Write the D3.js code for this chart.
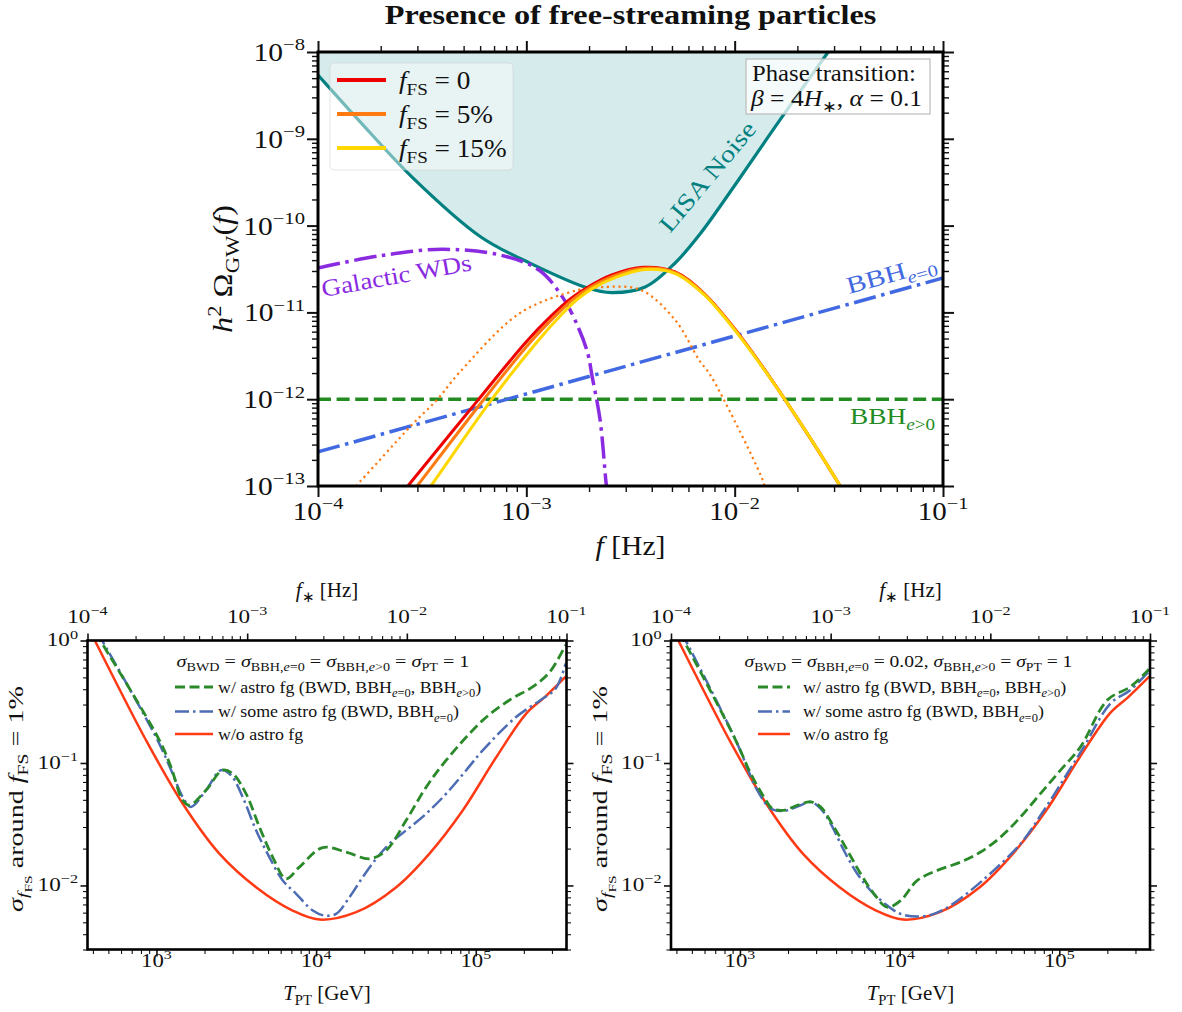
<!DOCTYPE html>
<html><head><meta charset="utf-8">
<script src="https://cdn.jsdelivr.net/npm/d3@7"></script>
<style>
body{margin:0;background:#fff}
svg text{font-family:"Liberation Serif","Times New Roman",serif;fill:#111}
</style></head>
<body><svg id="c" width="1182" height="1012"></svg>
<script>
// ---------------- DATA (top panel: f [Hz], h^2 Omega_GW) ----------------
const lisaF     = [1.00e-4,1.59e-4,2.86e-4,6.05e-4,1.04e-3,1.97e-3,2.55e-3,3.72e-3,5.18e-3,6.82e-3,1.00e-2,1.65e-2,2.81e-2,3.58e-2];
const lisaOmega = [5.43e-9,1.58e-9,3.53e-10,7.40e-11,3.70e-11,1.91e-11,1.69e-11,1.96e-11,3.71e-11,8.00e-11,2.90e-10,1.65e-9,1.00e-8,2.30e-8];

const wdF     = [1.00e-4,1.96e-4,3.94e-4,7.48e-4,1.15e-3,1.50e-3,1.77e-3,1.97e-3,2.07e-3,2.26e-3,2.41e-3,2.44e-3];
const wdOmega = [3.25e-11,4.47e-11,5.33e-11,4.58e-11,3.08e-11,1.47e-11,6.84e-12,3.40e-12,1.82e-12,5.75e-13,1.13e-13,8.9e-14];

const bbh0F     = [1e-4, 1e-1];
const bbh0Omega = [2.47e-13, 2.49e-11];
const bbhEccF     = [1e-4, 1e-1];
const bbhEccOmega = [1e-12, 1e-12];

const pt0F     = [2.51e-4,2.70e-4,5.86e-4,1.00e-3,1.31e-3,1.62e-3,1.97e-3,2.57e-3,3.63e-3,5.15e-3,7.11e-3,1.04e-2,1.75e-2,3.21e-2,3.5e-2];
const pt0Omega = [8.0e-14,1.0e-13,9.77e-13,4.6e-12,9.0e-12,1.42e-11,1.95e-11,2.70e-11,3.31e-11,2.94e-11,1.66e-11,5.74e-12,9.77e-13,1.0e-13,7.0e-14];
const pt5F     = [2.78e-4,2.99e-4,6.26e-4,1.05e-3,1.39e-3,1.68e-3,2.02e-3,2.61e-3,3.63e-3,5.15e-3,7.11e-3,1.04e-2,1.75e-2,3.21e-2,3.5e-2];
const pt5Omega = [8.0e-14,1.0e-13,1.0e-12,4.6e-12,9.3e-12,1.42e-11,1.93e-11,2.62e-11,3.23e-11,2.90e-11,1.65e-11,5.70e-12,9.77e-13,1.0e-13,7.0e-14];
const pt15F     = [3.24e-4,3.48e-4,6.84e-4,1.12e-3,1.48e-3,1.75e-3,2.07e-3,2.67e-3,3.72e-3,5.18e-3,7.13e-3,1.04e-2,1.75e-2,3.21e-2,3.5e-2];
const pt15Omega = [8.0e-14,1.0e-13,1.0e-12,4.5e-12,9.5e-12,1.40e-11,1.88e-11,2.52e-11,3.12e-11,2.80e-11,1.60e-11,5.55e-12,9.77e-13,1.0e-13,7.0e-14];
const ptDotF     = [1.45e-4,1.52e-4,2.82e-4,3.72e-4,4.75e-4,9.33e-4,1.77e-3,2.31e-3,3.55e-3,5.18e-3,6.75e-3,7.53e-3,8.89e-3,1.38e-2,1.41e-2];
const ptDotOmega = [9.0e-14,1.0e-13,5.05e-13,9.8e-13,2.0e-12,9.84e-12,1.81e-11,1.96e-11,1.81e-11,8.17e-12,2.83e-12,2.0e-12,9.8e-13,1.08e-13,8.5e-14];

const topLegend = ["0", "5%", "15%"];

// ---------------- DATA (bottom panels: T_PT [GeV], sigma) ----------------
const noFgT     = [389,411,859,1459,2477,4207,7129,10500,17820,31770,51290,82990,134600,207500,270400,365600];
const noFgSigma = [1.15,1.0,0.154,0.0467,0.0182,0.00968,0.00624,0.00527,0.00605,0.00968,0.0182,0.0411,0.112,0.254,0.345,0.507];

const allFgLT     = [417,445,1042,1233,1459,1607,2042,2594,2999,3639,4416,5346,6486,7852,10990,15420,21580,27480,36640,48980,65310,110900,162900,228000,290400,365600];
const allFgLSigma = [1.15,1.0,0.1538,0.0929,0.0497,0.0452,0.0598,0.0873,0.0820,0.0562,0.0300,0.01706,0.01135,0.01413,0.02037,0.01875,0.01652,0.01932,0.0340,0.0637,0.1054,0.2239,0.3266,0.4198,0.553,0.920];
const someFgLT     = [427,457,1016,1262,1459,1644,2042,2535,2931,3467,4207,5093,6180,7499,9528,11270,13340,16180,19590,23770,28840,36640,48980,65310,87100,110900,179500,251200,316200,365600];
const someFgLSigma = [1.17,1.0,0.1538,0.0820,0.0528,0.0438,0.0598,0.0873,0.0794,0.0528,0.0282,0.01706,0.01099,0.00855,0.00624,0.00568,0.00586,0.00802,0.01169,0.01652,0.02193,0.0282,0.0386,0.0562,0.0873,0.1274,0.2382,0.3228,0.4046,0.6486];

const allFgRT     = [417,444,940,1167,1413,1596,1888,2286,2773,3199,3882,4710,5702,6902,8375,10140,12910,17220,24100,32140,42850,57150,76210,101800,135800,200000,279300,364800];
const allFgRSigma = [1.15,1.0,0.1538,0.0820,0.0528,0.0425,0.0411,0.0452,0.0481,0.0438,0.0300,0.01932,0.01247,0.00855,0.00664,0.00753,0.01099,0.01327,0.01552,0.01875,0.0248,0.0362,0.0562,0.0873,0.1355,0.3266,0.4198,0.582];
const someFgRT     = [427,457,940,1285,1556,1888,2399,2773,3199,3698,4477,5433,6577,8375,10140,12910,16410,20840,27860,38900,57280,80170,112200,142600,209400,279300,364800];
const someFgRSigma = [1.17,1.0,0.1538,0.0598,0.0425,0.0406,0.0452,0.0481,0.0425,0.0320,0.01932,0.01247,0.00910,0.00686,0.00586,0.00557,0.00586,0.00686,0.00910,0.01327,0.02193,0.0411,0.0820,0.1355,0.3069,0.3945,0.5636];

const topXTicks = [1e-4,1e-3,1e-2,1e-1];
const topYTicks = [1e-13,1e-12,1e-11,1e-10,1e-9,1e-8];
const botXTicks = [1e3,1e4,1e5];
const botFTicks = [1e-4,1e-3,1e-2,1e-1];
const botYTicks = [1e-2,1e-1,1];

// ---------------- helpers ----------------
const svg = d3.select("#c");
const zip = (a,b)=>a.map((v,i)=>[v,b[i]]);
function expo(v){ const e=Math.round(Math.log10(v)); return e<0?"−"+(-e):String(e); }

function rich(g, x, y, parts, fs, o={}){
  const t = g.append("text").attr("x",x).attr("y",y).attr("font-size",fs);
  if(o.anchor) t.attr("text-anchor",o.anchor);
  if(o.weight) t.attr("font-weight",o.weight);
  const off={0:0,1:0.25,2:0.45,"-1":-0.42};
  const sz={0:1,1:0.7,2:0.55,"-1":0.7};
  let cur=0;
  parts.forEach(p=>{
    const l=p.l||0, target=off[l]*fs;
    const ts=t.append("tspan").attr("font-size",sz[l]*fs).text(p.t);
    if(Math.abs(target-cur)>1e-6) ts.attr("dy",target-cur);
    cur=target;
    if(p.i) ts.attr("font-style","italic");
    if(o.fill||p.c) ts.style("fill",p.c||o.fill);
  });
  let sx=o.sx||1;
  if(o.w){ const bw=t.node().getBBox().width; if(bw>0) sx=o.w/bw; }
  let tr="";
  if(o.rotate!=null) tr+=`rotate(${o.rotate},${x},${y}) `;
  if(sx!==1) tr+=`translate(${x},${y}) scale(${sx},1) translate(${-x},${-y})`;
  if(tr) t.attr("transform",tr);
  return t;
}
function minors(lo,hi){
  const out=[];
  for(let e=Math.floor(Math.log10(lo))-1;e<=Math.ceil(Math.log10(hi));e++)
    for(let m=2;m<=9;m++){const v=m*Math.pow(10,e); if(v>=lo*0.9999&&v<=hi*1.0001) out.push(v);}
  return out;
}
function ax(g, fn, scale, vals, len, w, tr){
  g.append("g").attr("transform",tr)
   .call(fn(scale).tickValues(vals).tickSize(len).tickSizeOuter(0).tickFormat(""))
   .call(a=>{a.select(".domain").remove(); a.selectAll("line").attr("stroke","#111").attr("stroke-width",w);});
}
function frameAxes(g, x, y, majX, majY, o){
  const [x0,x1]=x.range(), [y0,y1]=y.range();
  const mx = minors(...x.domain()), my = minors(...y.domain());
  ax(g,d3.axisBottom,x,majX,o.ML,o.MW,`translate(0,${y0})`);
  ax(g,d3.axisBottom,x,mx,o.mL,o.mW,`translate(0,${y0})`);
  ax(g,d3.axisLeft,y,majY,o.ML,o.MW,`translate(${x0},0)`);
  ax(g,d3.axisLeft,y,my,o.mL,o.mW,`translate(${x0},0)`);
  ax(g,d3.axisRight,y,majY,o.ML,o.MW,`translate(${x1},0)`);
  ax(g,d3.axisRight,y,my,o.mL,o.mW,`translate(${x1},0)`);
  const ts=o.topScale||x, tm=o.topMaj||majX;
  ax(g,d3.axisTop,ts,tm,o.ML,o.MW,`translate(0,${y1})`);
  ax(g,d3.axisTop,ts,minors(...ts.domain()),o.mL,o.mW,`translate(0,${y1})`);
}
function frame(g,x,y,w){
  const [x0,x1]=x.range(), [y0,y1]=y.range();
  g.append("rect").attr("x",x0).attr("y",y1).attr("width",x1-x0).attr("height",y0-y1)
   .attr("fill","none").attr("stroke","#000").attr("stroke-width",w);
}
function clip(id,x,y){
  const [x0,x1]=x.range(), [y0,y1]=y.range();
  svg.append("clipPath").attr("id",id).append("rect").attr("x",x0).attr("y",y1).attr("width",x1-x0).attr("height",y0-y1);
}
const smooth = d3.curveCatmullRom.alpha(0.5);
function path(g,x,y,pts,st){
  const line=d3.line().x(d=>x(d[0])).y(d=>y(d[1])).curve(smooth);
  const p=g.append("path").attr("d",line(pts)).attr("fill","none")
    .attr("stroke",st.c).attr("stroke-width",st.w).attr("stroke-linejoin","round");
  if(st.d) p.attr("stroke-dasharray",st.d);
  return p;
}

// ---------------- TOP PANEL ----------------
const xT = d3.scaleLog().domain([1e-4,1e-1]).range([318,943]);
const yT = d3.scaleLog().domain([1e-13,1e-8]).range([486,52]);
clip("clipT",xT,yT);
const gT = svg.append("g");
const pT = gT.append("g").attr("clip-path","url(#clipT)");

const lisaPts = zip(lisaF,lisaOmega);
const area = d3.area().x(d=>xT(d[0])).y0(0).y1(d=>yT(d[1])).curve(smooth);
pT.append("path").attr("d",area(lisaPts)).attr("fill","teal").attr("fill-opacity",0.16);
path(pT,xT,yT,lisaPts,{c:"teal",w:3.2});

path(pT,xT,yT,zip(bbhEccF,bbhEccOmega),{c:"#228b22",w:3.5,d:"13,5.6"});
path(pT,xT,yT,zip(bbh0F,bbh0Omega),{c:"#4169e1",w:3.5,d:"22.4,5.6,3.5,5.6"});
path(pT,xT,yT,zip(wdF,wdOmega),{c:"#8a2be2",w:3.5,d:"22.4,5.6,3.5,5.6"});
path(pT,xT,yT,zip(ptDotF,ptDotOmega),{c:"#ff7a10",w:2.2,d:"2.2,3.6"});
path(pT,xT,yT,zip(pt0F,pt0Omega),{c:"#ee0000",w:3});
path(pT,xT,yT,zip(pt5F,pt5Omega),{c:"#ff7a10",w:3});
path(pT,xT,yT,zip(pt15F,pt15Omega),{c:"#ffd700",w:3});

frameAxes(gT,xT,yT,topXTicks,topYTicks,{ML:11,MW:2,mL:6,mW:1.4});
frame(gT,xT,yT,3);

topXTicks.forEach(v=>rich(gT,xT(v),520,[{t:"10"},{t:expo(v),l:-1}],25,{anchor:"middle",sx:1.16}));
topYTicks.forEach(v=>rich(gT,305,yT(v)+9,[{t:"10"},{t:expo(v),l:-1}],25,{anchor:"end",sx:1.18}));

rich(gT,630.5,555,[{t:"f",i:true},{t:" [Hz]"}],27,{anchor:"middle",w:70});
rich(gT,232,269,[{t:"h",i:true},{t:"2",l:-1},{t:" Ω"},{t:"GW",l:1},{t:"("},{t:"f",i:true},{t:")"}],27,{anchor:"middle",rotate:-90,w:128});
rich(gT,630.5,24,[{t:"Presence of free-streaming particles"}],28,{anchor:"middle",weight:"bold",w:492});

rich(gT,670,234,[{t:"LISA Noise"}],24,{rotate:-50,fill:"teal",w:136});
rich(gT,323,297,[{t:"Galactic WDs"}],24,{rotate:-10.2,fill:"#8a2be2",w:152});
rich(gT,849,294,[{t:"BBH"},{t:"e",l:1,i:true},{t:"=0",l:1}],24,{rotate:-15.6,fill:"#4169e1",w:92});
rich(gT,850,424,[{t:"BBH"},{t:"e",l:1,i:true},{t:">0",l:1}],24,{fill:"#228b22",w:85});

gT.append("rect").attr("x",330).attr("y",63).attr("width",183).attr("height",107).attr("rx",4)
  .attr("fill","#fff").attr("fill-opacity",0.45).attr("stroke","#ccc").attr("stroke-opacity",0.5);
const legCol = ["#ee0000","#ff7a10","#ffd700"];
topLegend.forEach((lab,i)=>{
  const yy=80+i*34;
  gT.append("line").attr("x1",337).attr("x2",386).attr("y1",yy).attr("y2",yy).attr("stroke",legCol[i]).attr("stroke-width",4);
  rich(gT,399,yy+9,[{t:"f",i:true},{t:"FS",l:1},{t:" = "+lab}],25,{sx:1.09});
});
gT.append("rect").attr("x",746).attr("y",59).attr("width",184).attr("height",55)
  .attr("fill","#fff").attr("fill-opacity",0.75).attr("stroke","#bbb").attr("stroke-width",1.2);
rich(gT,752,81,[{t:"Phase transition:"}],23,{w:164});
rich(gT,751,106,[{t:"β",i:true},{t:" = 4"},{t:"H",i:true},{t:"∗",l:1},{t:", "},{t:"α",i:true},{t:" = 0.1"}],23,{w:172});

// ---------------- BOTTOM PANELS ----------------
function bottom(id, x0, data, legendTitle, leg){
  const x = d3.scaleLog().domain([370,3.7e5]).range([x0,x0+479]);
  const xf = d3.scaleLog().domain([1e-4,1e-1]).range([x0,x0+479]);
  const y = d3.scaleLog().domain([3e-3,1]).range([949.5,640.5]);
  clip(id,x,y);
  const g = svg.append("g");
  const p = g.append("g").attr("clip-path",`url(#${id})`);
  path(p,x,y,zip(noFgT,noFgSigma),{c:"#ff3a14",w:2.5});
  path(p,x,y,data.some,{c:"#4c6cb3",w:2.5,d:"14,4,2.5,4"});
  path(p,x,y,data.all,{c:"#2a8a2a",w:2.8,d:"10,4.5"});
  frameAxes(g,x,y,botXTicks,botYTicks,{ML:7,MW:1.6,mL:4.5,mW:1.1,topScale:xf,topMaj:botFTicks});
  frame(g,x,y,2.6);
  botXTicks.forEach(v=>rich(g,x(v),967,[{t:"10"},{t:expo(v),l:-1}],19,{anchor:"middle",sx:1.2}));
  botFTicks.forEach(v=>rich(g,xf(v),623,[{t:"10"},{t:expo(v),l:-1}],19,{anchor:"middle",sx:1.22}));
  botYTicks.forEach(v=>rich(g,x0-9.5,y(v)+6,[{t:"10"},{t:expo(v),l:-1}],19,{anchor:"end",sx:1.22}));
  rich(g,x0+239.5,1000,[{t:"T",i:true},{t:"PT",l:1},{t:" [GeV]"}],21,{anchor:"middle"});
  rich(g,x0+239.5,597,[{t:"f",i:true},{t:"∗",l:1},{t:" [Hz]"}],21,{anchor:"middle"});
  rich(g,x0-64,799,[{t:"σ",i:true},{t:"f",i:true,l:1},{t:"FS",l:2},{t:" around "},{t:"f",i:true},{t:"FS",l:1},{t:" = 1%"}],20,{anchor:"middle",rotate:-90,w:226});
  rich(g,leg.cx,667,legendTitle,17,{anchor:"middle",w:leg.tw});
  const styles=[{c:"#2a8a2a",w:2.8,d:"10,4.5"},{c:"#4c6cb3",w:2.5,d:"14,4,2.5,4"},{c:"#ff3a14",w:2.5}];
  const labels=[
    [{t:"w/ astro fg (BWD, BBH"},{t:"e",i:true,l:1},{t:"=0",l:1},{t:", BBH"},{t:"e",i:true,l:1},{t:">0",l:1},{t:")"}],
    [{t:"w/ some astro fg (BWD, BBH"},{t:"e",i:true,l:1},{t:"=0",l:1},{t:")"}],
    [{t:"w/o astro fg"}]];
  [687,711.5,734].forEach((yy,i)=>{
    const l=g.append("line").attr("x1",leg.l0).attr("x2",leg.l1).attr("y1",yy).attr("y2",yy)
      .attr("stroke",styles[i].c).attr("stroke-width",styles[i].w);
    if(styles[i].d) l.attr("stroke-dasharray",styles[i].d);
    rich(g,leg.tx,yy+6,labels[i],17,{sx:1.05});
  });
}
bottom("clipL",87.5,{all:zip(allFgLT,allFgLSigma),some:zip(someFgLT,someFgLSigma)},
  [{t:"σ",i:true},{t:"BWD",l:1},{t:" = "},{t:"σ",i:true},{t:"BBH,",l:1},{t:"e",i:true,l:1},{t:"=0",l:1},{t:" = "},{t:"σ",i:true},{t:"BBH,",l:1},{t:"e",i:true,l:1},{t:">0",l:1},{t:" = "},{t:"σ",i:true},{t:"PT",l:1},{t:" = 1"}],
  {cx:323,tw:293,l0:175,l1:213,tx:218});
bottom("clipR",671,{all:zip(allFgRT,allFgRSigma),some:zip(someFgRT,someFgRSigma)},
  [{t:"σ",i:true},{t:"BWD",l:1},{t:" = "},{t:"σ",i:true},{t:"BBH,",l:1},{t:"e",i:true,l:1},{t:"=0",l:1},{t:" = 0.02, "},{t:"σ",i:true},{t:"BBH,",l:1},{t:"e",i:true,l:1},{t:">0",l:1},{t:" = "},{t:"σ",i:true},{t:"PT",l:1},{t:" = 1"}],
  {cx:908.5,tw:328,l0:758,l1:790,tx:803});
</script></body></html>
